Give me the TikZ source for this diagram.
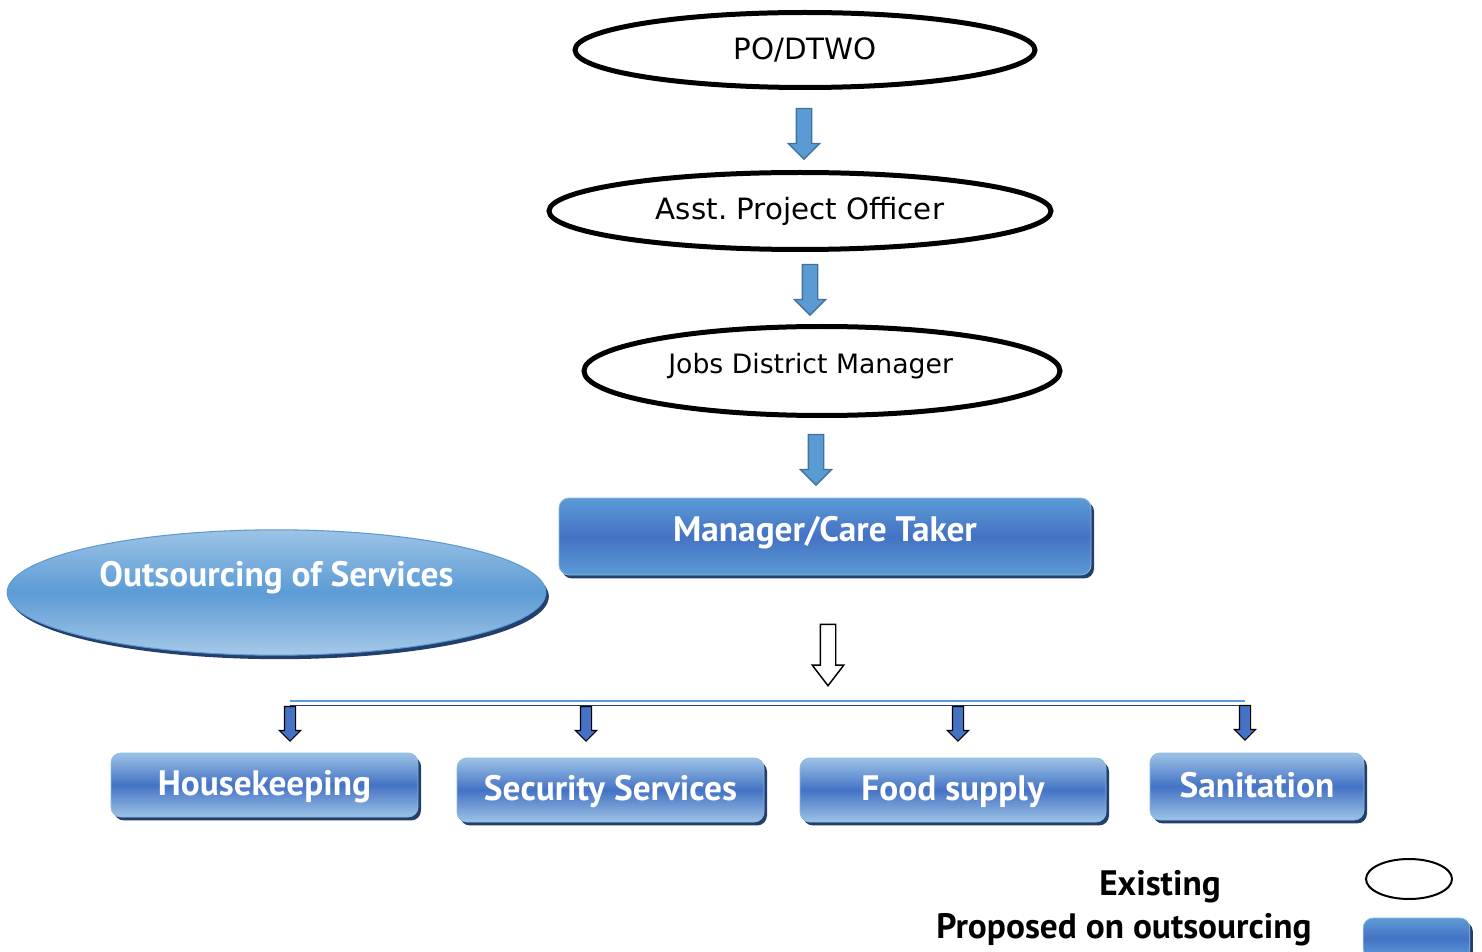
\documentclass[tikz,border=0pt]{standalone}
\usepackage{fontspec}
\setmainfont{DejaVu Sans}
\newfontfamily\labfont{PT Sans}
\usetikzlibrary{shapes.geometric,shapes.arrows,shadows}
\definecolor{dblue}{HTML}{4472C4}
\definecolor{mblue}{HTML}{5B9BD5}
\definecolor{lblue}{HTML}{9DC3E6}
\definecolor{navy}{HTML}{243F6B}
\definecolor{aline}{HTML}{41719C}
\begin{document}
\frenchspacing
\begin{tikzpicture}[x=0.75pt,y=-0.75pt,
  exist/.style={ellipse, draw=black, line width=3.75pt, fill=white, inner sep=0pt},
  etext/.style={font=\fontsize{22}{26}\selectfont},
  prop/.style={rectangle, rounded corners=7.5pt, draw=mblue!70, line width=0.6pt,
    top color=lblue, bottom color=lblue, middle color=dblue, inner sep=0pt,
    general shadow={shadow xshift=2.25pt, shadow yshift=-2.6pt, fill=navy},
    text=white, text height=21pt, text depth=5pt,
    font=\labfont\bfseries\fontsize{26.5}{30}\selectfont},
  bigprop/.style={prop, top color=mblue, bottom color=mblue, middle color=dblue},
  barrow/.style={single arrow, shape border rotate=270, inner sep=5.25pt,
    fill=mblue, draw=aline, line width=1pt,
    minimum height=38pt, minimum width=22.5pt, single arrow head extend=6pt,
    single arrow tip angle=90},
  sarrow/.style={single arrow, shape border rotate=270, inner sep=3.75pt,
    fill=dblue, draw=black, line width=0.9pt,
    minimum height=26pt, minimum width=15pt, single arrow head extend=3.75pt,
    single arrow tip angle=90},
  oarrow/.style={single arrow, shape border rotate=270, inner sep=5.25pt,
    fill=white, draw=black, line width=1.1pt,
    minimum height=46pt, minimum width=22.5pt, single arrow head extend=6pt,
    single arrow tip angle=75},
  legtext/.style={font=\labfont\bfseries\fontsize{26.5}{30}\selectfont, text=black}
]
\useasboundingbox (0,0) rectangle (1482,952);

% existing hierarchy
\node[exist, minimum width=345pt, minimum height=56.25pt, etext] (po) at (805,50) {PO/DTWO};
\node[exist, minimum width=376.5pt, minimum height=57.75pt, etext] (apo) at (800,211) {Asst. Project Officer};
\node[exist, minimum width=357pt, minimum height=66.75pt,
  label={[xshift=-8.5pt, yshift=4pt, font=\fontsize{20}{24}\selectfont]center:Jobs District Manager}] (jdm) at (822,371) {};

\node[barrow] (a1) at (804,130) {};
\node[barrow] (a2) at (810,286) {};
\node[barrow] (a3) at (816,456) {};

% manager
\node[bigprop, minimum width=399pt, minimum height=57.75pt,
  label={[yshift=3pt, text=white, font=\labfont\bfseries\fontsize{26.5}{30}\selectfont]center:Manager/Care Taker}] (mgr) at (825,536.5) {};

% outsourcing ellipse
\node[ellipse, draw=mblue, line width=0.8pt, top color=lblue, bottom color=lblue!90, middle color=mblue,
  general shadow={shadow xshift=2.25pt, shadow yshift=-3pt, fill=navy},
  minimum width=404pt, minimum height=94pt, inner sep=0pt,
  label={[yshift=11pt, text=white, font=\labfont\bfseries\fontsize{26.5}{30}\selectfont]center:Outsourcing of Services}]
  (out) at (276.5,592.5) {};

% open arrow
\node[oarrow] (oa) at (828,650) {};

% distribution bar
\coordinate (bl) at (290,701);
\coordinate (br) at (1245,701);
\draw[mblue, line width=2.2pt] (bl) -- (br);
\draw[navy, line width=1.1pt] ([yshift=-3.5pt]bl) -- ([yshift=-3.5pt]br);

\node[sarrow] (s1) at (290,721) {};
\node[sarrow] (s2) at (586,721) {};
\node[sarrow] (s3) at (958,721) {};
\node[sarrow] (s4) at (1245,720) {};

% services
\node[prop, minimum width=230.25pt, minimum height=48pt] (hk) at (264.5,785) {Housekeeping};
\node[prop, minimum width=230.25pt, minimum height=48pt] (ss) at (610.5,790) {Security Services};
\node[prop, minimum width=229.5pt, minimum height=48pt] (fs) at (953,790) {Food supply};
\node[prop, minimum width=160.5pt, minimum height=50.25pt] (sa) at (1257,786.5) {Sanitation};

% legend
\node[legtext] (lex) at (1160,887) {Existing};
\node[legtext] (lpr) at (1124,930) {Proposed on outsourcing};
\node[ellipse, draw=black, line width=1.5pt, fill=white, minimum width=64.5pt, minimum height=30pt, inner sep=0pt] (lel) at (1409,879) {};
\node[bigprop, minimum width=80pt, minimum height=30pt] (lbx) at (1416.5,938) {};
\end{tikzpicture}
\end{document}
